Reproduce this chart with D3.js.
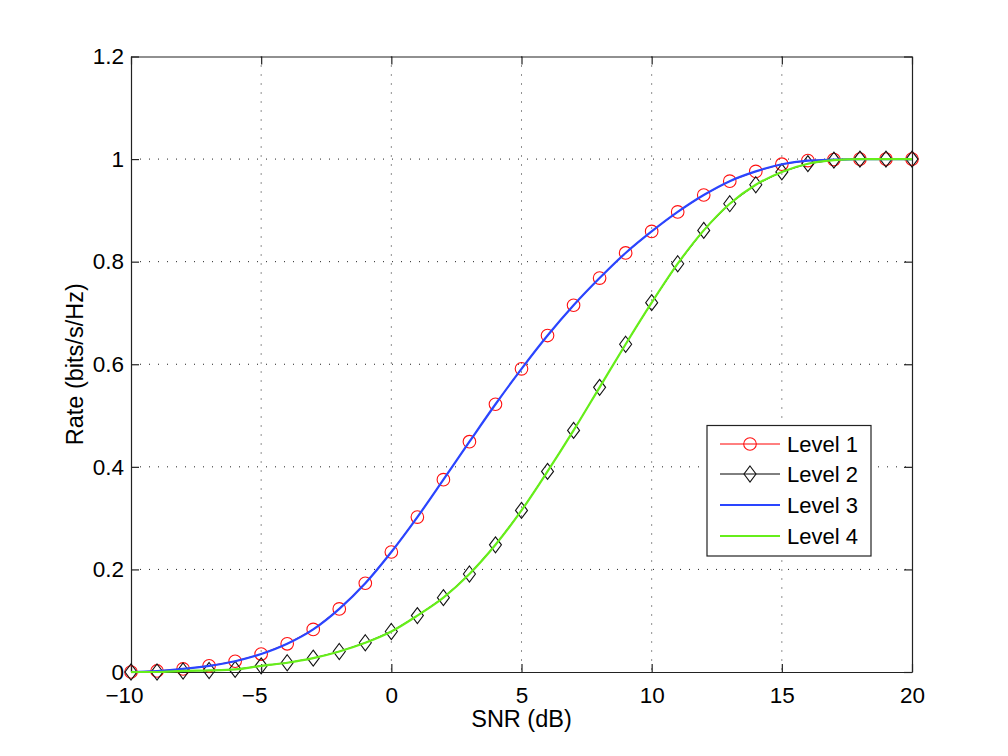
<!DOCTYPE html>
<html>
<head>
<meta charset="utf-8">
<script src="https://cdn.jsdelivr.net/npm/d3@7"></script>
<style>
  html, body { margin: 0; padding: 0; background: #fff; }
  svg { display: block; }
  text { font-family: "Liberation Sans", Arial, Helvetica, sans-serif; fill: #000; }
</style>
</head>
<body>
<svg id="chart" width="1008" height="756"></svg>
<script>
// ---- data ----
const snr = [-10,-9,-8,-7,-6,-5,-4,-3,-2,-1,0,1,2,3,4,5,6,7,8,9,10,11,12,13,14,15,16,17,18,19,20];
const level1 = [0.000,0.002,0.006,0.012,0.021,0.035,0.055,0.083,0.123,0.173,0.234,0.302,0.375,0.449,0.522,0.591,0.656,0.715,0.768,0.817,0.859,0.897,0.930,0.957,0.976,0.990,0.997,0.999,1.000,1.000,1.000];
const level2 = [0.000,0.000,0.002,0.003,0.005,0.012,0.018,0.027,0.040,0.057,0.079,0.110,0.145,0.191,0.248,0.315,0.391,0.471,0.555,0.639,0.720,0.796,0.861,0.913,0.950,0.975,0.991,0.998,1.000,1.000,1.000];
const level3 = [0.000,0.002,0.006,0.012,0.021,0.035,0.055,0.083,0.123,0.173,0.234,0.302,0.375,0.449,0.522,0.591,0.656,0.715,0.768,0.817,0.859,0.897,0.930,0.957,0.976,0.990,0.997,0.999,1.000,1.000,1.000];
const level4 = [0.000,0.000,0.002,0.003,0.005,0.012,0.018,0.027,0.040,0.057,0.079,0.110,0.145,0.191,0.248,0.315,0.391,0.471,0.555,0.639,0.720,0.796,0.861,0.913,0.950,0.975,0.991,0.998,1.000,1.000,1.000];
const xTicks = [-10,-5,0,5,10,15,20];
const yTicks = [0,0.2,0.4,0.6,0.8,1,1.2];
const legendLabels = ["Level 1","Level 2","Level 3","Level 4"];

// ---- layout ----
const L = 131, R = 912, T = 56.5, B = 672;
const svg = d3.select("#chart");
const x = d3.scaleLinear().domain([-10, 20]).range([L, R]);
const y = d3.scaleLinear().domain([0, 1.2]).range([B, T]);
const fmtY = d => (d === 0 || d === 1) ? String(d) : d.toFixed(1);
const fmtX = d => d < 0 ? "\u2212" + Math.abs(d) : String(d);

// grid
const grid = svg.append("g");
grid.selectAll("line.vg").data(xTicks.slice(1, -1)).join("line")
  .attr("x1", d => x(d)).attr("x2", d => x(d)).attr("y1", T).attr("y2", B)
  .attr("stroke", "#222").attr("stroke-width", 1).attr("stroke-dasharray", "1,8");
grid.selectAll("line.hg").data(yTicks.slice(1, -1)).join("line")
  .attr("x1", L).attr("x2", R).attr("y1", d => y(d)).attr("y2", d => y(d))
  .attr("stroke", "#222").attr("stroke-width", 1).attr("stroke-dasharray", "1,8");

// axes (ticks inward, box)
const tk = 8;
const axB = svg.append("g").attr("transform", `translate(0,${B})`)
  .call(d3.axisBottom(x).tickValues(xTicks).tickSizeInner(-tk).tickSizeOuter(0).tickPadding(15).tickFormat(fmtX));
const axT = svg.append("g").attr("transform", `translate(0,${T})`)
  .call(d3.axisTop(x).tickValues(xTicks).tickSizeInner(-tk).tickSizeOuter(0).tickFormat(""));
const axL = svg.append("g").attr("transform", `translate(${L},0)`)
  .call(d3.axisLeft(y).tickValues(yTicks).tickSizeInner(-tk).tickSizeOuter(0).tickPadding(7).tickFormat(fmtY));
const axR = svg.append("g").attr("transform", `translate(${R},0)`)
  .call(d3.axisRight(y).tickValues(yTicks).tickSizeInner(-tk).tickSizeOuter(0).tickFormat(""));
[axB, axT, axL, axR].forEach(a => {
  a.attr("font-size", null).attr("font-family", null);
  a.select(".domain").attr("stroke", "#222").attr("stroke-width", 1.2);
  a.selectAll(".tick line").attr("stroke", "#222").attr("stroke-width", 1.2);
  a.selectAll("text").style("font-size", "22.5px").style("font-family", '"Liberation Sans", Arial, sans-serif').attr("fill", "#000");
});
axB.selectAll("text").attr("dy", "0.71em").attr("dx", d => d < 0 ? -7 : 0);

// axis labels
svg.append("text").attr("x", (L + R) / 2).attr("y", 727).attr("text-anchor", "middle")
  .style("font-size", "23.5px").text("SNR (dB)");
svg.append("text").attr("transform", `translate(83,${(T + B) / 2}) rotate(-90)`)
  .attr("text-anchor", "middle").style("font-size", "23.5px").text("Rate (bits/s/Hz)");

// series
const plot = svg.append("g");
const lineStraight = vals => d3.line().x((d, i) => x(snr[i])).y(d => y(d))(vals);
const lineSmooth = vals => d3.line().x((d, i) => x(snr[i])).y(d => y(d)).curve(d3.curveMonotoneX)(vals);
const diamond = (cx, cy, w, h) => `M${cx},${cy - h}L${cx + w},${cy}L${cx},${cy + h}L${cx - w},${cy}Z`;

// Level 1: red line with circles
plot.append("path").attr("d", lineStraight(level1)).attr("fill", "none").attr("stroke", "#ff0000").attr("stroke-width", 1);
plot.selectAll("circle.l1").data(level1).join("circle")
  .attr("cx", (d, i) => x(snr[i])).attr("cy", d => y(d)).attr("r", 6.3)
  .attr("fill", "none").attr("stroke", "#ff1010").attr("stroke-width", 1.1);
// Level 2: black line with diamonds
plot.append("path").attr("d", lineStraight(level2)).attr("fill", "none").attr("stroke", "#000").attr("stroke-width", 1);
plot.selectAll("path.l2").data(level2).join("path")
  .attr("d", (d, i) => diamond(x(snr[i]), y(d), 6, 8))
  .attr("fill", "none").attr("stroke", "#111").attr("stroke-width", 1.1);
// Level 3: blue smooth line
plot.append("path").attr("d", lineSmooth(level3)).attr("fill", "none").attr("stroke", "#2a45ff").attr("stroke-width", 2.2);
// Level 4: green smooth line
plot.append("path").attr("d", lineSmooth(level4)).attr("fill", "none").attr("stroke", "#66ee1a").attr("stroke-width", 2.2);

// legend
const lg = svg.append("g");
const lx = 707, ly = 425.5, lw = 164, lh = 130.5;
lg.append("rect").attr("x", lx).attr("y", ly).attr("width", lw).attr("height", lh)
  .attr("fill", "#fff").attr("stroke", "#222").attr("stroke-width", 1.2);
const rowY = [444, 474, 505, 536];
const lgColors = ["#ff0000", "#000", "#2a45ff", "#66ee1a"];
const lgWidths = [1, 1, 2.2, 2.2];
legendLabels.forEach((lab, i) => {
  lg.append("line").attr("x1", 720).attr("x2", 780).attr("y1", rowY[i]).attr("y2", rowY[i])
    .attr("stroke", lgColors[i]).attr("stroke-width", lgWidths[i]);
  if (i === 0) lg.append("circle").attr("cx", 750).attr("cy", rowY[i]).attr("r", 6.3)
    .attr("fill", "none").attr("stroke", "#ff1010").attr("stroke-width", 1.1);
  if (i === 1) lg.append("path").attr("d", diamond(750, rowY[i], 6, 8))
    .attr("fill", "none").attr("stroke", "#111").attr("stroke-width", 1.1);
  lg.append("text").attr("x", 787).attr("y", rowY[i]).attr("dy", "0.36em")
    .style("font-size", "22px").text(lab);
});
</script>
</body>
</html>
